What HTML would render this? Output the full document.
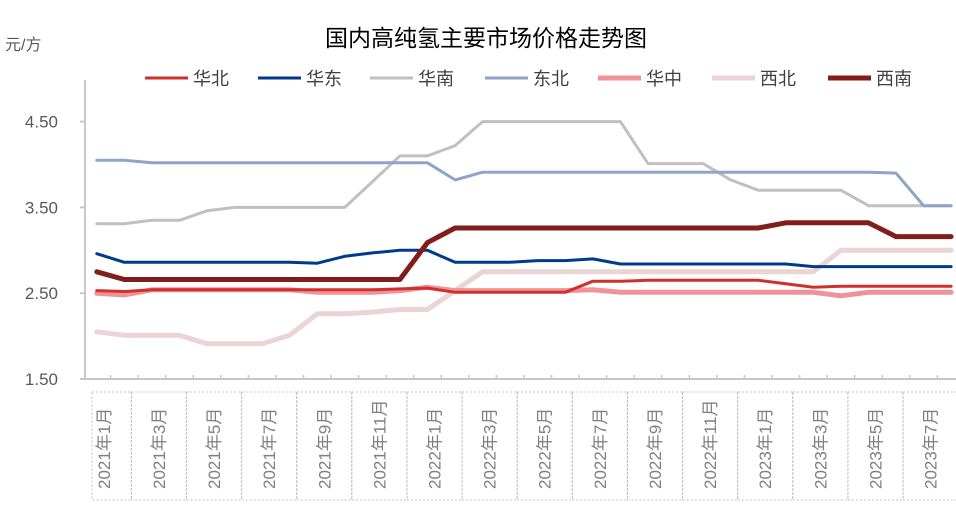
<!DOCTYPE html>
<html><head><meta charset="utf-8">
<style>
body{margin:0;background:#fff;}
svg text{font-family:"Liberation Sans","Noto Sans CJK SC",sans-serif;}
</style></head>
<body>
<svg id="chart" width="956" height="510" viewBox="0 0 956 510" xmlns="http://www.w3.org/2000/svg">
<text x="486" y="46" text-anchor="middle" font-size="23" fill="#000">国内高纯氢主要市场价格走势图</text>
<text x="5" y="50" font-size="16" fill="#595959">元/方</text>
<g id="legend"></g>
<g id="axes"></g>
<g id="series"></g>
</svg>
<script>
const seriesNames=["华北","华东","华南","东北","华中","西北","西南"];
const huabei=[2.53,2.52,2.54,2.54,2.54,2.54,2.54,2.54,2.54,2.54,2.54,2.55,2.56,2.51,2.51,2.51,2.51,2.51,2.64,2.64,2.65,2.65,2.65,2.65,2.65,2.61,2.57,2.58,2.58,2.58,2.58,2.58];
const huadong=[2.96,2.86,2.86,2.86,2.86,2.86,2.86,2.86,2.85,2.93,2.97,3.0,3.0,2.86,2.86,2.86,2.88,2.88,2.90,2.84,2.84,2.84,2.84,2.84,2.84,2.84,2.81,2.81,2.81,2.81,2.81,2.81];
const huanan=[3.31,3.31,3.35,3.35,3.46,3.5,3.5,3.5,3.5,3.5,3.8,4.1,4.1,4.22,4.5,4.5,4.5,4.5,4.5,4.5,4.01,4.01,4.01,3.82,3.7,3.7,3.7,3.7,3.52,3.52,3.52,3.52];
const dongbei=[4.05,4.05,4.02,4.02,4.02,4.02,4.02,4.02,4.02,4.02,4.02,4.02,4.02,3.82,3.91,3.91,3.91,3.91,3.91,3.91,3.91,3.91,3.91,3.91,3.91,3.91,3.91,3.91,3.91,3.9,3.52,3.52];
const huazhong=[2.5,2.48,2.54,2.54,2.54,2.54,2.54,2.54,2.51,2.51,2.51,2.53,2.57,2.53,2.53,2.53,2.53,2.53,2.54,2.51,2.51,2.51,2.51,2.51,2.51,2.51,2.51,2.47,2.51,2.51,2.51,2.51];
const xibei=[2.05,2.01,2.01,2.01,1.91,1.91,1.91,2.01,2.26,2.26,2.28,2.31,2.31,2.53,2.75,2.75,2.75,2.75,2.75,2.75,2.75,2.75,2.75,2.75,2.75,2.75,2.75,3.0,3.0,3.0,3.0,3.0];
const xinan=[2.75,2.66,2.66,2.66,2.66,2.66,2.66,2.66,2.66,2.66,2.66,2.66,3.09,3.26,3.26,3.26,3.26,3.26,3.26,3.26,3.26,3.26,3.26,3.26,3.26,3.32,3.32,3.32,3.32,3.16,3.16,3.16];
const yTicks=[1.5,2.5,3.5,4.5];
const yTickLabels=["1.50","2.50","3.50","4.50"];
const xLabels=["2021年1月","2021年3月","2021年5月","2021年7月","2021年9月","2021年11月","2022年1月","2022年3月","2022年5月","2022年7月","2022年9月","2022年11月","2023年1月","2023年3月","2023年5月","2023年7月"];

const NS="http://www.w3.org/2000/svg";
const svg=document.getElementById('chart');
const N=huabei.length;
const x0=83, band=27.56, yBase=379, yScale=85.8;
function xs(i){return x0+band*(i+0.5);}
function ys(v){return yBase-(v-1.5)*yScale;}
function mk(tag,attrs,parent){const e=document.createElementNS(NS,tag);for(const k in attrs)e.setAttribute(k,attrs[k]);parent.appendChild(e);return e;}

const axes=document.getElementById('axes');
let yl=mk('line',{x1:85,y1:80,x2:85,y2:yBase,stroke:'#c8c8c8','stroke-width':2},axes);


let xl=mk('line',{x1:85,y1:yBase,x2:956,y2:yBase,stroke:'#c8c8c8','stroke-width':2},axes);


yTicks.forEach((v,i)=>{
  const t=mk('line',{x1:80,y1:ys(v),x2:85,y2:ys(v),stroke:'#c8c8c8','stroke-width':2},axes);
  
  
  const tx=mk('text',{x:58,y:ys(v)+6,'text-anchor':'end','font-size':17,fill:'#595959'},axes);
  tx.textContent=yTickLabels[i];
  
  
});
for(let i=1;i<=N;i++){
  const t=mk('line',{x1:x0+band*i,y1:yBase,x2:x0+band*i,y2:yBase-4,stroke:'#c8c8c8','stroke-width':1.5},axes);
  
  
}
xLabels.forEach((lab,k)=>{
  const cx=xs(k*2)+7;
  const left=k===0?92:cx-27.5, right=cx+27.5;
  const r=mk('rect',{x:left,y:392,width:right-left,height:108,fill:'none',stroke:'#c0c0c0','stroke-dasharray':'2,2','stroke-width':1},axes);
  
  
  const t=mk('text',{x:0,y:0,'font-size':17,fill:'#7f7f7f',transform:`translate(${cx+6},${lab.length>8?498:489}) rotate(-90)`},axes);
  t.textContent=lab;
  
  
});

const data=[huabei,huadong,huanan,dongbei,huazhong,xibei,xinan];
const colors=['#d0302a','#003a8c','#c0c0c0','#8ea5c8','#f0929c','#ead4d4','#7f1e1a'];
const widths=[3,3,3,3,5,5,5];
const drawOrder=[5,2,3,4,0,1,6];
const seriesG=document.getElementById('series');
drawOrder.forEach(s=>{
  const pts=data[s].map((v,i)=>xs(i).toFixed(1)+','+ys(v).toFixed(1)).join(' ');
  const p=mk('polyline',{points:pts,fill:'none',stroke:colors[s],'stroke-width':widths[s],'stroke-linejoin':'round','stroke-linecap':'round'},seriesG);
  
  
});

const legend=document.getElementById('legend');
const lx=[145,258,370,485,598,712,828];
seriesNames.forEach((n,i)=>{
  const l=mk('line',{x1:lx[i],y1:78,x2:lx[i]+43,y2:78,stroke:colors[i],'stroke-width':widths[i]},legend);
  
  
  const t=mk('text',{x:lx[i]+48,y:85,'font-size':18,fill:'#404040'},legend);
  t.textContent=n;
  
  
});
</script>
</body></html>
